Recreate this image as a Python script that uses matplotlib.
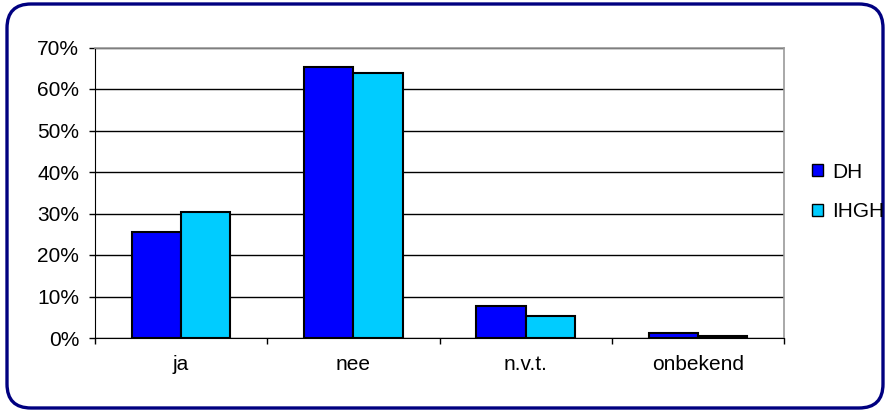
import numpy as np
import matplotlib.pyplot as plt
from matplotlib.patches import FancyBboxPatch, Patch
from matplotlib.transforms import IdentityTransform

plt.rcParams['font.family'] = ['Liberation Sans', 'DejaVu Sans']

# Data
categories = ["ja", "nee", "n.v.t.", "onbekend"]
dh = [25.6, 65.3, 7.6, 1.3]
ihgh = [30.3, 63.9, 5.2, 0.4]
yticks = [0, 10, 20, 30, 40, 50, 60, 70]

fig = plt.figure(figsize=(8.88, 4.12), dpi=100)
ax = fig.add_axes([95 / 888, 74 / 412, 689 / 888, 290.5 / 412])

x = np.arange(len(categories))
w = 0.286
ax.bar(x - w / 2, dh, w, color="#0000FF", edgecolor="black", linewidth=1.5, label="DH", zorder=3)
ax.bar(x + w / 2, ihgh, w, color="#00CCFF", edgecolor="black", linewidth=1.5, label="IHGH", zorder=3)

ax.set_xlim(-0.5, len(categories) - 0.5)
ax.set_ylim(0, 70)
ax.set_yticks(yticks)
ax.set_yticklabels([f"{v}%" for v in yticks])
ax.set_xticks(x)
ax.set_xticklabels(categories)
ax.set_xticks(np.arange(-0.5, len(categories)), minor=True)
ax.tick_params(axis="x", which="major", length=0, pad=12.5, labelsize=15)
ax.tick_params(axis="x", which="minor", length=4.5, width=1, direction="out")
ax.tick_params(axis="y", length=4.5, width=1, direction="out", pad=7, labelsize=15)

ax.yaxis.grid(True, color="black", linewidth=1)
ax.set_axisbelow(True)
for side in ["top", "right"]:
    ax.spines[side].set_color("#999999")
    ax.spines[side].set_linewidth(1.2)
ax.spines["left"].set_color("black")
ax.spines["bottom"].set_color("black")

handles = [Patch(facecolor="#0000FF", edgecolor="black", label="DH"),
           Patch(facecolor="#00CCFF", edgecolor="black", label="IHGH")]
fig.legend(handles=handles, loc="center left", bbox_to_anchor=(812 / 888, 1 - 192 / 412),
           frameon=False, handlelength=0.53, handleheight=0.53, handletextpad=0.45,
           labelspacing=1.0, fontsize=15, borderpad=0, borderaxespad=0)

# rounded outer border
border = FancyBboxPatch((7, 4), 876, 404, boxstyle="round,pad=0,rounding_size=24",
                        transform=IdentityTransform(), facecolor="none",
                        edgecolor="#000080", linewidth=2.4)
fig.patches.append(border)

fig.savefig("out.png", dpi=100)
